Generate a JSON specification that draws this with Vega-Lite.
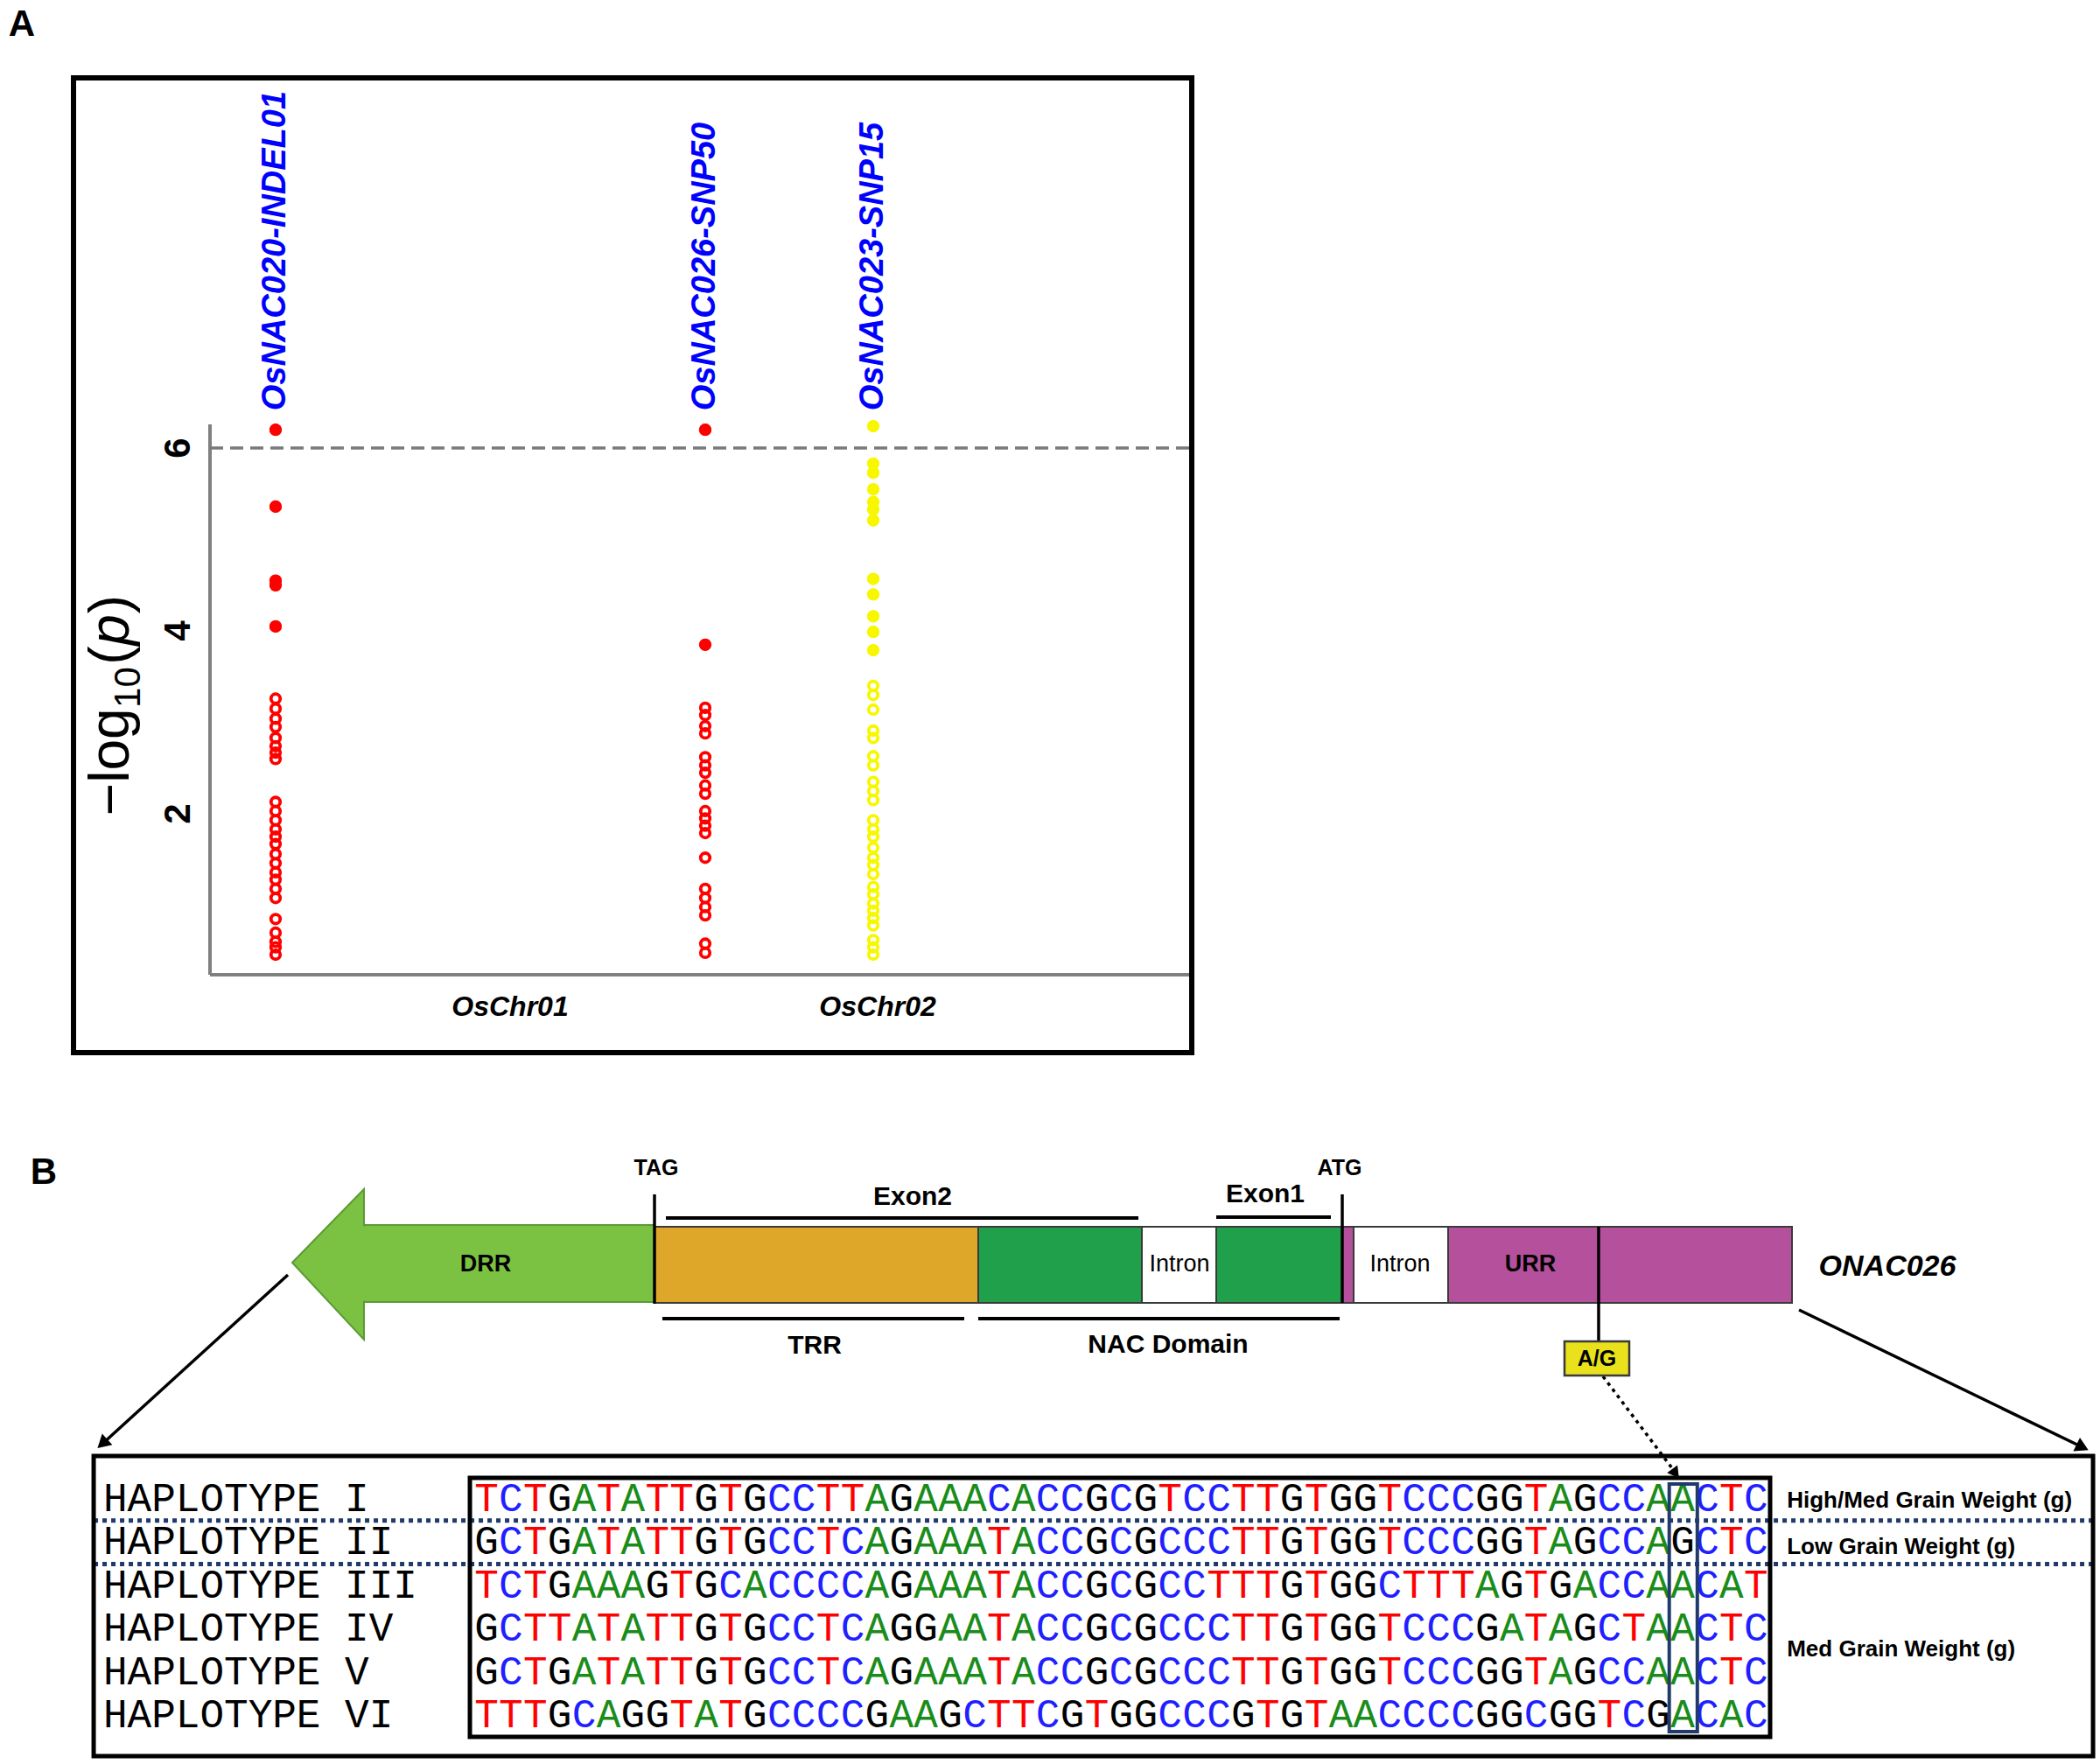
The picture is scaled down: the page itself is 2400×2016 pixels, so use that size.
{
"$schema":"https://vega.github.io/schema/vega-lite/v6.json",
"width":2400,"height":2016,"padding":0,"autosize":{"type":"none"},
"background":"white",
"config":{"view":{"stroke":null},"font":"Liberation Sans"},
"datasets":{
"pts":[
{"chr":"OsChr01","locus":"OsNAC020-INDEL01","pos":6.7,"logp":6.20},{"chr":"OsChr01","locus":"OsNAC020-INDEL01","pos":6.7,"logp":5.36},{"chr":"OsChr01","locus":"OsNAC020-INDEL01","pos":6.7,"logp":4.55},{"chr":"OsChr01","locus":"OsNAC020-INDEL01","pos":6.7,"logp":4.50},{"chr":"OsChr01","locus":"OsNAC020-INDEL01","pos":6.7,"logp":4.05},{"chr":"OsChr01","locus":"OsNAC020-INDEL01","pos":6.7,"logp":3.26},{"chr":"OsChr01","locus":"OsNAC020-INDEL01","pos":6.7,"logp":3.15},{"chr":"OsChr01","locus":"OsNAC020-INDEL01","pos":6.7,"logp":3.04},{"chr":"OsChr01","locus":"OsNAC020-INDEL01","pos":6.7,"logp":2.95},{"chr":"OsChr01","locus":"OsNAC020-INDEL01","pos":6.7,"logp":2.83},{"chr":"OsChr01","locus":"OsNAC020-INDEL01","pos":6.7,"logp":2.74},{"chr":"OsChr01","locus":"OsNAC020-INDEL01","pos":6.7,"logp":2.67},{"chr":"OsChr01","locus":"OsNAC020-INDEL01","pos":6.7,"logp":2.60},{"chr":"OsChr01","locus":"OsNAC020-INDEL01","pos":6.7,"logp":2.13},{"chr":"OsChr01","locus":"OsNAC020-INDEL01","pos":6.7,"logp":2.03},{"chr":"OsChr01","locus":"OsNAC020-INDEL01","pos":6.7,"logp":1.93},{"chr":"OsChr01","locus":"OsNAC020-INDEL01","pos":6.7,"logp":1.83},{"chr":"OsChr01","locus":"OsNAC020-INDEL01","pos":6.7,"logp":1.75},{"chr":"OsChr01","locus":"OsNAC020-INDEL01","pos":6.7,"logp":1.67},{"chr":"OsChr01","locus":"OsNAC020-INDEL01","pos":6.7,"logp":1.56},{"chr":"OsChr01","locus":"OsNAC020-INDEL01","pos":6.7,"logp":1.46},{"chr":"OsChr01","locus":"OsNAC020-INDEL01","pos":6.7,"logp":1.36},{"chr":"OsChr01","locus":"OsNAC020-INDEL01","pos":6.7,"logp":1.28},{"chr":"OsChr01","locus":"OsNAC020-INDEL01","pos":6.7,"logp":1.18},{"chr":"OsChr01","locus":"OsNAC020-INDEL01","pos":6.7,"logp":1.08},{"chr":"OsChr01","locus":"OsNAC020-INDEL01","pos":6.7,"logp":0.85},{"chr":"OsChr01","locus":"OsNAC020-INDEL01","pos":6.7,"logp":0.70},{"chr":"OsChr01","locus":"OsNAC020-INDEL01","pos":6.7,"logp":0.60},{"chr":"OsChr01","locus":"OsNAC020-INDEL01","pos":6.7,"logp":0.54},{"chr":"OsChr01","locus":"OsNAC020-INDEL01","pos":6.7,"logp":0.46},
{"chr":"OsChr01","locus":"OsNAC026-SNP50","pos":50.58,"logp":6.20},{"chr":"OsChr01","locus":"OsNAC026-SNP50","pos":50.58,"logp":3.85},{"chr":"OsChr01","locus":"OsNAC026-SNP50","pos":50.58,"logp":3.16},{"chr":"OsChr01","locus":"OsNAC026-SNP50","pos":50.58,"logp":3.08},{"chr":"OsChr01","locus":"OsNAC026-SNP50","pos":50.58,"logp":2.96},{"chr":"OsChr01","locus":"OsNAC026-SNP50","pos":50.58,"logp":2.88},{"chr":"OsChr01","locus":"OsNAC026-SNP50","pos":50.58,"logp":2.62},{"chr":"OsChr01","locus":"OsNAC026-SNP50","pos":50.58,"logp":2.53},{"chr":"OsChr01","locus":"OsNAC026-SNP50","pos":50.58,"logp":2.45},{"chr":"OsChr01","locus":"OsNAC026-SNP50","pos":50.58,"logp":2.31},{"chr":"OsChr01","locus":"OsNAC026-SNP50","pos":50.58,"logp":2.22},{"chr":"OsChr01","locus":"OsNAC026-SNP50","pos":50.58,"logp":2.03},{"chr":"OsChr01","locus":"OsNAC026-SNP50","pos":50.58,"logp":1.95},{"chr":"OsChr01","locus":"OsNAC026-SNP50","pos":50.58,"logp":1.87},{"chr":"OsChr01","locus":"OsNAC026-SNP50","pos":50.58,"logp":1.79},{"chr":"OsChr01","locus":"OsNAC026-SNP50","pos":50.58,"logp":1.52},{"chr":"OsChr01","locus":"OsNAC026-SNP50","pos":50.58,"logp":1.18},{"chr":"OsChr01","locus":"OsNAC026-SNP50","pos":50.58,"logp":1.08},{"chr":"OsChr01","locus":"OsNAC026-SNP50","pos":50.58,"logp":0.98},{"chr":"OsChr01","locus":"OsNAC026-SNP50","pos":50.58,"logp":0.89},{"chr":"OsChr01","locus":"OsNAC026-SNP50","pos":50.58,"logp":0.58},{"chr":"OsChr01","locus":"OsNAC026-SNP50","pos":50.58,"logp":0.48},
{"chr":"OsChr02","locus":"OsNAC023-SNP15","pos":67.74,"logp":6.24},{"chr":"OsChr02","locus":"OsNAC023-SNP15","pos":67.74,"logp":5.83},{"chr":"OsChr02","locus":"OsNAC023-SNP15","pos":67.74,"logp":5.73},{"chr":"OsChr02","locus":"OsNAC023-SNP15","pos":67.74,"logp":5.55},{"chr":"OsChr02","locus":"OsNAC023-SNP15","pos":67.74,"logp":5.41},{"chr":"OsChr02","locus":"OsNAC023-SNP15","pos":67.74,"logp":5.33},{"chr":"OsChr02","locus":"OsNAC023-SNP15","pos":67.74,"logp":5.21},{"chr":"OsChr02","locus":"OsNAC023-SNP15","pos":67.74,"logp":4.57},{"chr":"OsChr02","locus":"OsNAC023-SNP15","pos":67.74,"logp":4.40},{"chr":"OsChr02","locus":"OsNAC023-SNP15","pos":67.74,"logp":4.16},{"chr":"OsChr02","locus":"OsNAC023-SNP15","pos":67.74,"logp":3.99},{"chr":"OsChr02","locus":"OsNAC023-SNP15","pos":67.74,"logp":3.79},{"chr":"OsChr02","locus":"OsNAC023-SNP15","pos":67.74,"logp":3.40},{"chr":"OsChr02","locus":"OsNAC023-SNP15","pos":67.74,"logp":3.30},{"chr":"OsChr02","locus":"OsNAC023-SNP15","pos":67.74,"logp":3.14},{"chr":"OsChr02","locus":"OsNAC023-SNP15","pos":67.74,"logp":2.91},{"chr":"OsChr02","locus":"OsNAC023-SNP15","pos":67.74,"logp":2.83},{"chr":"OsChr02","locus":"OsNAC023-SNP15","pos":67.74,"logp":2.63},{"chr":"OsChr02","locus":"OsNAC023-SNP15","pos":67.74,"logp":2.53},{"chr":"OsChr02","locus":"OsNAC023-SNP15","pos":67.74,"logp":2.35},{"chr":"OsChr02","locus":"OsNAC023-SNP15","pos":67.74,"logp":2.25},{"chr":"OsChr02","locus":"OsNAC023-SNP15","pos":67.74,"logp":2.15},{"chr":"OsChr02","locus":"OsNAC023-SNP15","pos":67.74,"logp":1.93},{"chr":"OsChr02","locus":"OsNAC023-SNP15","pos":67.74,"logp":1.83},{"chr":"OsChr02","locus":"OsNAC023-SNP15","pos":67.74,"logp":1.75},{"chr":"OsChr02","locus":"OsNAC023-SNP15","pos":67.74,"logp":1.63},{"chr":"OsChr02","locus":"OsNAC023-SNP15","pos":67.74,"logp":1.52},{"chr":"OsChr02","locus":"OsNAC023-SNP15","pos":67.74,"logp":1.44},{"chr":"OsChr02","locus":"OsNAC023-SNP15","pos":67.74,"logp":1.34},{"chr":"OsChr02","locus":"OsNAC023-SNP15","pos":67.74,"logp":1.20},{"chr":"OsChr02","locus":"OsNAC023-SNP15","pos":67.74,"logp":1.12},{"chr":"OsChr02","locus":"OsNAC023-SNP15","pos":67.74,"logp":1.02},{"chr":"OsChr02","locus":"OsNAC023-SNP15","pos":67.74,"logp":0.94},{"chr":"OsChr02","locus":"OsNAC023-SNP15","pos":67.74,"logp":0.86},{"chr":"OsChr02","locus":"OsNAC023-SNP15","pos":67.74,"logp":0.78},{"chr":"OsChr02","locus":"OsNAC023-SNP15","pos":67.74,"logp":0.62},{"chr":"OsChr02","locus":"OsNAC023-SNP15","pos":67.74,"logp":0.54},{"chr":"OsChr02","locus":"OsNAC023-SNP15","pos":67.74,"logp":0.46}
],
"seq":[
{"h":1,"i":0,"b":"T"},{"h":1,"i":1,"b":"C"},{"h":1,"i":2,"b":"T"},{"h":1,"i":3,"b":"G"},{"h":1,"i":4,"b":"A"},{"h":1,"i":5,"b":"T"},{"h":1,"i":6,"b":"A"},{"h":1,"i":7,"b":"T"},{"h":1,"i":8,"b":"T"},{"h":1,"i":9,"b":"G"},
{"h":1,"i":10,"b":"T"},{"h":1,"i":11,"b":"G"},{"h":1,"i":12,"b":"C"},{"h":1,"i":13,"b":"C"},{"h":1,"i":14,"b":"T"},{"h":1,"i":15,"b":"T"},{"h":1,"i":16,"b":"A"},{"h":1,"i":17,"b":"G"},{"h":1,"i":18,"b":"A"},{"h":1,"i":19,"b":"A"},
{"h":1,"i":20,"b":"A"},{"h":1,"i":21,"b":"C"},{"h":1,"i":22,"b":"A"},{"h":1,"i":23,"b":"C"},{"h":1,"i":24,"b":"C"},{"h":1,"i":25,"b":"G"},{"h":1,"i":26,"b":"C"},{"h":1,"i":27,"b":"G"},{"h":1,"i":28,"b":"T"},{"h":1,"i":29,"b":"C"},
{"h":1,"i":30,"b":"C"},{"h":1,"i":31,"b":"T"},{"h":1,"i":32,"b":"T"},{"h":1,"i":33,"b":"G"},{"h":1,"i":34,"b":"T"},{"h":1,"i":35,"b":"G"},{"h":1,"i":36,"b":"G"},{"h":1,"i":37,"b":"T"},{"h":1,"i":38,"b":"C"},{"h":1,"i":39,"b":"C"},
{"h":1,"i":40,"b":"C"},{"h":1,"i":41,"b":"G"},{"h":1,"i":42,"b":"G"},{"h":1,"i":43,"b":"T"},{"h":1,"i":44,"b":"A"},{"h":1,"i":45,"b":"G"},{"h":1,"i":46,"b":"C"},{"h":1,"i":47,"b":"C"},{"h":1,"i":48,"b":"A"},{"h":1,"i":49,"b":"A"},
{"h":1,"i":50,"b":"C"},{"h":1,"i":51,"b":"T"},{"h":1,"i":52,"b":"C"},
{"h":2,"i":0,"b":"G"},{"h":2,"i":1,"b":"C"},{"h":2,"i":2,"b":"T"},{"h":2,"i":3,"b":"G"},{"h":2,"i":4,"b":"A"},{"h":2,"i":5,"b":"T"},{"h":2,"i":6,"b":"A"},{"h":2,"i":7,"b":"T"},{"h":2,"i":8,"b":"T"},{"h":2,"i":9,"b":"G"},
{"h":2,"i":10,"b":"T"},{"h":2,"i":11,"b":"G"},{"h":2,"i":12,"b":"C"},{"h":2,"i":13,"b":"C"},{"h":2,"i":14,"b":"T"},{"h":2,"i":15,"b":"C"},{"h":2,"i":16,"b":"A"},{"h":2,"i":17,"b":"G"},{"h":2,"i":18,"b":"A"},{"h":2,"i":19,"b":"A"},
{"h":2,"i":20,"b":"A"},{"h":2,"i":21,"b":"T"},{"h":2,"i":22,"b":"A"},{"h":2,"i":23,"b":"C"},{"h":2,"i":24,"b":"C"},{"h":2,"i":25,"b":"G"},{"h":2,"i":26,"b":"C"},{"h":2,"i":27,"b":"G"},{"h":2,"i":28,"b":"C"},{"h":2,"i":29,"b":"C"},
{"h":2,"i":30,"b":"C"},{"h":2,"i":31,"b":"T"},{"h":2,"i":32,"b":"T"},{"h":2,"i":33,"b":"G"},{"h":2,"i":34,"b":"T"},{"h":2,"i":35,"b":"G"},{"h":2,"i":36,"b":"G"},{"h":2,"i":37,"b":"T"},{"h":2,"i":38,"b":"C"},{"h":2,"i":39,"b":"C"},
{"h":2,"i":40,"b":"C"},{"h":2,"i":41,"b":"G"},{"h":2,"i":42,"b":"G"},{"h":2,"i":43,"b":"T"},{"h":2,"i":44,"b":"A"},{"h":2,"i":45,"b":"G"},{"h":2,"i":46,"b":"C"},{"h":2,"i":47,"b":"C"},{"h":2,"i":48,"b":"A"},{"h":2,"i":49,"b":"G"},
{"h":2,"i":50,"b":"C"},{"h":2,"i":51,"b":"T"},{"h":2,"i":52,"b":"C"},
{"h":3,"i":0,"b":"T"},{"h":3,"i":1,"b":"C"},{"h":3,"i":2,"b":"T"},{"h":3,"i":3,"b":"G"},{"h":3,"i":4,"b":"A"},{"h":3,"i":5,"b":"A"},{"h":3,"i":6,"b":"A"},{"h":3,"i":7,"b":"G"},{"h":3,"i":8,"b":"T"},{"h":3,"i":9,"b":"G"},
{"h":3,"i":10,"b":"C"},{"h":3,"i":11,"b":"A"},{"h":3,"i":12,"b":"C"},{"h":3,"i":13,"b":"C"},{"h":3,"i":14,"b":"C"},{"h":3,"i":15,"b":"C"},{"h":3,"i":16,"b":"A"},{"h":3,"i":17,"b":"G"},{"h":3,"i":18,"b":"A"},{"h":3,"i":19,"b":"A"},
{"h":3,"i":20,"b":"A"},{"h":3,"i":21,"b":"T"},{"h":3,"i":22,"b":"A"},{"h":3,"i":23,"b":"C"},{"h":3,"i":24,"b":"C"},{"h":3,"i":25,"b":"G"},{"h":3,"i":26,"b":"C"},{"h":3,"i":27,"b":"G"},{"h":3,"i":28,"b":"C"},{"h":3,"i":29,"b":"C"},
{"h":3,"i":30,"b":"T"},{"h":3,"i":31,"b":"T"},{"h":3,"i":32,"b":"T"},{"h":3,"i":33,"b":"G"},{"h":3,"i":34,"b":"T"},{"h":3,"i":35,"b":"G"},{"h":3,"i":36,"b":"G"},{"h":3,"i":37,"b":"C"},{"h":3,"i":38,"b":"T"},{"h":3,"i":39,"b":"T"},
{"h":3,"i":40,"b":"T"},{"h":3,"i":41,"b":"A"},{"h":3,"i":42,"b":"G"},{"h":3,"i":43,"b":"T"},{"h":3,"i":44,"b":"G"},{"h":3,"i":45,"b":"A"},{"h":3,"i":46,"b":"C"},{"h":3,"i":47,"b":"C"},{"h":3,"i":48,"b":"A"},{"h":3,"i":49,"b":"A"},
{"h":3,"i":50,"b":"C"},{"h":3,"i":51,"b":"A"},{"h":3,"i":52,"b":"T"},
{"h":4,"i":0,"b":"G"},{"h":4,"i":1,"b":"C"},{"h":4,"i":2,"b":"T"},{"h":4,"i":3,"b":"T"},{"h":4,"i":4,"b":"A"},{"h":4,"i":5,"b":"T"},{"h":4,"i":6,"b":"A"},{"h":4,"i":7,"b":"T"},{"h":4,"i":8,"b":"T"},{"h":4,"i":9,"b":"G"},
{"h":4,"i":10,"b":"T"},{"h":4,"i":11,"b":"G"},{"h":4,"i":12,"b":"C"},{"h":4,"i":13,"b":"C"},{"h":4,"i":14,"b":"T"},{"h":4,"i":15,"b":"C"},{"h":4,"i":16,"b":"A"},{"h":4,"i":17,"b":"G"},{"h":4,"i":18,"b":"G"},{"h":4,"i":19,"b":"A"},
{"h":4,"i":20,"b":"A"},{"h":4,"i":21,"b":"T"},{"h":4,"i":22,"b":"A"},{"h":4,"i":23,"b":"C"},{"h":4,"i":24,"b":"C"},{"h":4,"i":25,"b":"G"},{"h":4,"i":26,"b":"C"},{"h":4,"i":27,"b":"G"},{"h":4,"i":28,"b":"C"},{"h":4,"i":29,"b":"C"},
{"h":4,"i":30,"b":"C"},{"h":4,"i":31,"b":"T"},{"h":4,"i":32,"b":"T"},{"h":4,"i":33,"b":"G"},{"h":4,"i":34,"b":"T"},{"h":4,"i":35,"b":"G"},{"h":4,"i":36,"b":"G"},{"h":4,"i":37,"b":"T"},{"h":4,"i":38,"b":"C"},{"h":4,"i":39,"b":"C"},
{"h":4,"i":40,"b":"C"},{"h":4,"i":41,"b":"G"},{"h":4,"i":42,"b":"A"},{"h":4,"i":43,"b":"T"},{"h":4,"i":44,"b":"A"},{"h":4,"i":45,"b":"G"},{"h":4,"i":46,"b":"C"},{"h":4,"i":47,"b":"T"},{"h":4,"i":48,"b":"A"},{"h":4,"i":49,"b":"A"},
{"h":4,"i":50,"b":"C"},{"h":4,"i":51,"b":"T"},{"h":4,"i":52,"b":"C"},
{"h":5,"i":0,"b":"G"},{"h":5,"i":1,"b":"C"},{"h":5,"i":2,"b":"T"},{"h":5,"i":3,"b":"G"},{"h":5,"i":4,"b":"A"},{"h":5,"i":5,"b":"T"},{"h":5,"i":6,"b":"A"},{"h":5,"i":7,"b":"T"},{"h":5,"i":8,"b":"T"},{"h":5,"i":9,"b":"G"},
{"h":5,"i":10,"b":"T"},{"h":5,"i":11,"b":"G"},{"h":5,"i":12,"b":"C"},{"h":5,"i":13,"b":"C"},{"h":5,"i":14,"b":"T"},{"h":5,"i":15,"b":"C"},{"h":5,"i":16,"b":"A"},{"h":5,"i":17,"b":"G"},{"h":5,"i":18,"b":"A"},{"h":5,"i":19,"b":"A"},
{"h":5,"i":20,"b":"A"},{"h":5,"i":21,"b":"T"},{"h":5,"i":22,"b":"A"},{"h":5,"i":23,"b":"C"},{"h":5,"i":24,"b":"C"},{"h":5,"i":25,"b":"G"},{"h":5,"i":26,"b":"C"},{"h":5,"i":27,"b":"G"},{"h":5,"i":28,"b":"C"},{"h":5,"i":29,"b":"C"},
{"h":5,"i":30,"b":"C"},{"h":5,"i":31,"b":"T"},{"h":5,"i":32,"b":"T"},{"h":5,"i":33,"b":"G"},{"h":5,"i":34,"b":"T"},{"h":5,"i":35,"b":"G"},{"h":5,"i":36,"b":"G"},{"h":5,"i":37,"b":"T"},{"h":5,"i":38,"b":"C"},{"h":5,"i":39,"b":"C"},
{"h":5,"i":40,"b":"C"},{"h":5,"i":41,"b":"G"},{"h":5,"i":42,"b":"G"},{"h":5,"i":43,"b":"T"},{"h":5,"i":44,"b":"A"},{"h":5,"i":45,"b":"G"},{"h":5,"i":46,"b":"C"},{"h":5,"i":47,"b":"C"},{"h":5,"i":48,"b":"A"},{"h":5,"i":49,"b":"A"},
{"h":5,"i":50,"b":"C"},{"h":5,"i":51,"b":"T"},{"h":5,"i":52,"b":"C"},
{"h":6,"i":0,"b":"T"},{"h":6,"i":1,"b":"T"},{"h":6,"i":2,"b":"T"},{"h":6,"i":3,"b":"G"},{"h":6,"i":4,"b":"C"},{"h":6,"i":5,"b":"A"},{"h":6,"i":6,"b":"G"},{"h":6,"i":7,"b":"G"},{"h":6,"i":8,"b":"T"},{"h":6,"i":9,"b":"A"},
{"h":6,"i":10,"b":"T"},{"h":6,"i":11,"b":"G"},{"h":6,"i":12,"b":"C"},{"h":6,"i":13,"b":"C"},{"h":6,"i":14,"b":"C"},{"h":6,"i":15,"b":"C"},{"h":6,"i":16,"b":"G"},{"h":6,"i":17,"b":"A"},{"h":6,"i":18,"b":"A"},{"h":6,"i":19,"b":"G"},
{"h":6,"i":20,"b":"C"},{"h":6,"i":21,"b":"T"},{"h":6,"i":22,"b":"T"},{"h":6,"i":23,"b":"C"},{"h":6,"i":24,"b":"G"},{"h":6,"i":25,"b":"T"},{"h":6,"i":26,"b":"G"},{"h":6,"i":27,"b":"G"},{"h":6,"i":28,"b":"C"},{"h":6,"i":29,"b":"C"},
{"h":6,"i":30,"b":"C"},{"h":6,"i":31,"b":"G"},{"h":6,"i":32,"b":"T"},{"h":6,"i":33,"b":"G"},{"h":6,"i":34,"b":"T"},{"h":6,"i":35,"b":"A"},{"h":6,"i":36,"b":"A"},{"h":6,"i":37,"b":"C"},{"h":6,"i":38,"b":"C"},{"h":6,"i":39,"b":"C"},
{"h":6,"i":40,"b":"C"},{"h":6,"i":41,"b":"G"},{"h":6,"i":42,"b":"G"},{"h":6,"i":43,"b":"C"},{"h":6,"i":44,"b":"G"},{"h":6,"i":45,"b":"G"},{"h":6,"i":46,"b":"T"},{"h":6,"i":47,"b":"C"},{"h":6,"i":48,"b":"G"},{"h":6,"i":49,"b":"A"},
{"h":6,"i":50,"b":"C"},{"h":6,"i":51,"b":"A"},{"h":6,"i":52,"b":"C"}
]
},
"layer":[
{"layer":[
 {"data":{"values":[{}]},"mark":{"type":"rect","filled":false,"stroke":"#000000","strokeWidth":6},
  "encoding":{"x":{"datum":-13.94,"type":"quantitative","scale":{"domain":[-21.448,193.03],"nice":false,"zero":false},"axis":null},"x2":{"datum":100.27},
   "y":{"datum":10.049,"type":"quantitative","scale":{"domain":[-8.3914,10.9005],"nice":false,"zero":false},"axis":null},"y2":{"datum":-0.6115}}},
 {"data":{"values":[{}]},"mark":{"type":"rule","color":"#808080","strokeWidth":4},
  "encoding":{"x":{"datum":0,"type":"quantitative","scale":{"domain":[-21.448,193.03],"nice":false,"zero":false},"axis":null},
   "y":{"datum":0.239,"type":"quantitative","scale":{"domain":[-8.3914,10.9005],"nice":false,"zero":false},"axis":null},"y2":{"datum":6.26}}},
 {"data":{"values":[{}]},"mark":{"type":"rule","color":"#808080","strokeWidth":4},
  "encoding":{"x":{"datum":0,"type":"quantitative","scale":{"domain":[-21.448,193.03],"nice":false,"zero":false},"axis":null},"x2":{"datum":100},
   "y":{"datum":0.239,"type":"quantitative","scale":{"domain":[-8.3914,10.9005],"nice":false,"zero":false},"axis":null}}},
 {"data":{"values":[{}]},"mark":{"type":"rule","color":"#7a7a7a","strokeWidth":3.5,"strokeDash":[15,8]},
  "encoding":{"x":{"datum":0,"type":"quantitative","scale":{"domain":[-21.448,193.03],"nice":false,"zero":false},"axis":null},"x2":{"datum":100},
   "y":{"datum":6,"type":"quantitative","scale":{"domain":[-8.3914,10.9005],"nice":false,"zero":false},"axis":null}}},
 {"data":{"name":"pts"},"mark":{"type":"point","shape":"circle","filled":false,"strokeWidth":3.8,"size":110,"opacity":1},
  "encoding":{"x":{"field":"pos","type":"quantitative","scale":{"domain":[-21.448,193.03],"nice":false,"zero":false},"axis":null},
   "y":{"field":"logp","type":"quantitative","scale":{"domain":[-8.3914,10.9005],"nice":false,"zero":false},"axis":null},
   "color":{"field":"chr","type":"nominal","scale":{"domain":["OsChr01","OsChr02"],"range":["#ff0000","#f7f700"]},"legend":null}}},
 {"data":{"name":"pts"},"transform":[{"filter":"datum.logp > 3.5"}],"mark":{"type":"circle","size":190,"opacity":1},
  "encoding":{"x":{"field":"pos","type":"quantitative","scale":{"domain":[-21.448,193.03],"nice":false,"zero":false},"axis":null},
   "y":{"field":"logp","type":"quantitative","scale":{"domain":[-8.3914,10.9005],"nice":false,"zero":false},"axis":null},
   "color":{"field":"chr","type":"nominal","scale":{"domain":["OsChr01","OsChr02"],"range":["#ff0000","#f7f700"]},"legend":null}}},
 {"data":{"values":[{"locus":"OsNAC020-INDEL01","pos":6.7},{"locus":"OsNAC026-SNP50","pos":50.58},{"locus":"OsNAC023-SNP15","pos":67.74}]},
  "mark":{"type":"text","angle":270,"align":"left","baseline":"middle","fontSize":38,"fontWeight":"bold","fontStyle":"italic","color":"#0000ff"},
  "encoding":{"x":{"field":"pos","type":"quantitative","scale":{"domain":[-21.448,193.03],"nice":false,"zero":false},"axis":null},
   "y":{"datum":6.41,"type":"quantitative","scale":{"domain":[-8.3914,10.9005],"nice":false,"zero":false},"axis":null},
   "text":{"field":"locus"}}},
 {"data":{"values":[{"t":2},{"t":4},{"t":6}]},
  "mark":{"type":"text","angle":270,"align":"center","baseline":"middle","fontSize":42,"fontWeight":"bold","color":"#000000"},
  "encoding":{"x":{"datum":-3.217,"type":"quantitative","scale":{"domain":[-21.448,193.03],"nice":false,"zero":false},"axis":null},
   "y":{"field":"t","type":"quantitative","scale":{"domain":[-8.3914,10.9005],"nice":false,"zero":false},"axis":null},
   "text":{"field":"t"}}},
 {"data":{"values":[{"t":"−log"}]},
  "mark":{"type":"text","angle":270,"align":"left","baseline":"alphabetic","fontSize":64,"color":"#000000"},
  "encoding":{"x":{"datum":-8.311,"type":"quantitative","scale":{"domain":[-21.448,193.03],"nice":false,"zero":false},"axis":null},
   "y":{"datum":1.98,"type":"quantitative","scale":{"domain":[-8.3914,10.9005],"nice":false,"zero":false},"axis":null},
   "text":{"field":"t"}}},
 {"data":{"values":[{"t":"10"}]},
  "mark":{"type":"text","angle":270,"align":"left","baseline":"alphabetic","fontSize":42,"color":"#000000"},
  "encoding":{"x":{"datum":-7.15,"type":"quantitative","scale":{"domain":[-21.448,193.03],"nice":false,"zero":false},"axis":null},
   "y":{"datum":3.16,"type":"quantitative","scale":{"domain":[-8.3914,10.9005],"nice":false,"zero":false},"axis":null},
   "text":{"field":"t"}}},
 {"data":{"values":[{"t":"("}]},
  "mark":{"type":"text","angle":270,"align":"left","baseline":"alphabetic","fontSize":64,"color":"#000000"},
  "encoding":{"x":{"datum":-8.311,"type":"quantitative","scale":{"domain":[-21.448,193.03],"nice":false,"zero":false},"axis":null},
   "y":{"datum":3.63,"type":"quantitative","scale":{"domain":[-8.3914,10.9005],"nice":false,"zero":false},"axis":null},
   "text":{"field":"t"}}},
 {"data":{"values":[{"t":"p"}]},
  "mark":{"type":"text","angle":270,"align":"left","baseline":"alphabetic","fontSize":64,"fontStyle":"italic","color":"#000000"},
  "encoding":{"x":{"datum":-8.311,"type":"quantitative","scale":{"domain":[-21.448,193.03],"nice":false,"zero":false},"axis":null},
   "y":{"datum":3.84,"type":"quantitative","scale":{"domain":[-8.3914,10.9005],"nice":false,"zero":false},"axis":null},
   "text":{"field":"t"}}},
 {"data":{"values":[{"t":")"}]},
  "mark":{"type":"text","angle":270,"align":"left","baseline":"alphabetic","fontSize":64,"color":"#000000"},
  "encoding":{"x":{"datum":-8.311,"type":"quantitative","scale":{"domain":[-21.448,193.03],"nice":false,"zero":false},"axis":null},
   "y":{"datum":4.19,"type":"quantitative","scale":{"domain":[-8.3914,10.9005],"nice":false,"zero":false},"axis":null},
   "text":{"field":"t"}}},
 {"data":{"values":[{"chr":"OsChr01","mid":30.65},{"chr":"OsChr02","mid":68.19}]},
  "mark":{"type":"text","align":"center","baseline":"middle","fontSize":32,"fontWeight":"bold","fontStyle":"italic","color":"#000000"},
  "encoding":{"x":{"field":"mid","type":"quantitative","scale":{"domain":[-21.448,193.03],"nice":false,"zero":false},"axis":null},
   "y":{"datum":-0.114,"type":"quantitative","scale":{"domain":[-8.3914,10.9005],"nice":false,"zero":false},"axis":null},
   "text":{"field":"chr"}}}
]},
{"layer":[
 {"data":{"values":[{"gx":334,"gyt":1443,"gyb":1443},{"gx":416,"gyt":1359,"gyb":1531}]},
  "mark":{"type":"area","orient":"vertical","interpolate":"linear","color":"#7cc242","stroke":"#5a9a34","strokeWidth":2,"opacity":1},
  "encoding":{"x":{"field":"gx","type":"quantitative","scale":{"domain":[0,2400],"nice":false,"zero":false},"axis":null},
   "y":{"field":"gyt","type":"quantitative","scale":{"domain":[0,2016],"nice":false,"zero":false,"reverse":true},"axis":null},
   "y2":{"field":"gyb"}}},
 {"data":{"values":[{}]},
  "mark":{"type":"rect","color":"#7cc242","stroke":"#5a9a34","strokeWidth":2,"opacity":1},
  "encoding":{"x":{"datum":416,"type":"quantitative","scale":{"domain":[0,2400],"nice":false,"zero":false},"axis":null},"x2":{"datum":748},
   "y":{"datum":1400,"type":"quantitative","scale":{"domain":[0,2016],"nice":false,"zero":false,"reverse":true},"axis":null},"y2":{"datum":1488}}},
 {"data":{"values":[{}]},
  "mark":{"type":"rect","color":"#7cc242","opacity":1},
  "encoding":{"x":{"datum":413,"type":"quantitative","scale":{"domain":[0,2400],"nice":false,"zero":false},"axis":null},"x2":{"datum":420},
   "y":{"datum":1401.5,"type":"quantitative","scale":{"domain":[0,2016],"nice":false,"zero":false,"reverse":true},"axis":null},"y2":{"datum":1486.5}}},
 {"data":{"values":[{"part":"TRR","x0":748,"x1":1118},{"part":"NAC","x0":1118,"x1":1305},{"part":"Intron1","x0":1305,"x1":1390},{"part":"Exon1","x0":1390,"x1":1534},{"part":"UTR","x0":1534,"x1":1547},{"part":"Intron2","x0":1547,"x1":1655},{"part":"URR","x0":1655,"x1":2048}]},
  "mark":{"type":"rect","stroke":"#3a3a3a","strokeWidth":2,"opacity":1},
  "encoding":{"x":{"field":"x0","type":"quantitative","scale":{"domain":[0,2400],"nice":false,"zero":false},"axis":null},"x2":{"field":"x1"},
   "y":{"datum":1402,"type":"quantitative","scale":{"domain":[0,2016],"nice":false,"zero":false,"reverse":true},"axis":null},"y2":{"datum":1489},
   "color":{"field":"part","type":"nominal","scale":{"domain":["TRR","NAC","Intron1","Exon1","UTR","Intron2","URR"],"range":["#dfa72a","#21a04b","#ffffff","#21a04b","#b5509c","#ffffff","#b5509c"]},"legend":null}}},
 {"data":{"values":[{"name":"TAG","x":748,"y0":1365,"y1":1490},{"name":"ATG","x":1534,"y0":1365,"y1":1489},{"name":"SNP","x":1827,"y0":1402,"y1":1533}]},
  "mark":{"type":"rule","color":"#000000","strokeWidth":3.5},
  "encoding":{"x":{"field":"x","type":"quantitative","scale":{"domain":[0,2400],"nice":false,"zero":false},"axis":null},
   "y":{"field":"y0","type":"quantitative","scale":{"domain":[0,2016],"nice":false,"zero":false,"reverse":true},"axis":null},"y2":{"field":"y1"}}},
 {"data":{"values":[{"name":"Exon2","x0":761,"x1":1301,"y":1392},{"name":"Exon1","x0":1390,"x1":1521,"y":1391},{"name":"TRR","x0":757,"x1":1102,"y":1507},{"name":"NAC Domain","x0":1118,"x1":1531,"y":1507}]},
  "mark":{"type":"rule","color":"#000000","strokeWidth":4},
  "encoding":{"x":{"field":"x0","type":"quantitative","scale":{"domain":[0,2400],"nice":false,"zero":false},"axis":null},"x2":{"field":"x1"},
   "y":{"field":"y","type":"quantitative","scale":{"domain":[0,2016],"nice":false,"zero":false,"reverse":true},"axis":null}}},
 {"data":{"values":[{"x0":329,"y0":1457,"x1":116,"y1":1651},{"x0":2056,"y0":1497,"x1":2380,"y1":1654}]},
  "mark":{"type":"rule","color":"#000000","strokeWidth":3.5},
  "encoding":{"x":{"field":"x0","type":"quantitative","scale":{"domain":[0,2400],"nice":false,"zero":false},"axis":null},"x2":{"field":"x1"},
   "y":{"field":"y0","type":"quantitative","scale":{"domain":[0,2016],"nice":false,"zero":false,"reverse":true},"axis":null},"y2":{"field":"y1"}}},
 {"data":{"values":[{"x0":1832,"y0":1573,"x1":1914,"y1":1682}]},
  "mark":{"type":"rule","color":"#000000","strokeWidth":3.5,"strokeDash":[4,5]},
  "encoding":{"x":{"field":"x0","type":"quantitative","scale":{"domain":[0,2400],"nice":false,"zero":false},"axis":null},"x2":{"field":"x1"},
   "y":{"field":"y0","type":"quantitative","scale":{"domain":[0,2016],"nice":false,"zero":false,"reverse":true},"axis":null},"y2":{"field":"y1"}}},
 {"data":{"values":[{"x":117,"y":1650}]},
  "mark":{"type":"point","shape":"triangle-up","filled":true,"size":300,"angle":227.7,"color":"#000000","opacity":1},
  "encoding":{"x":{"field":"x","type":"quantitative","scale":{"domain":[0,2400],"nice":false,"zero":false},"axis":null},
   "y":{"field":"y","type":"quantitative","scale":{"domain":[0,2016],"nice":false,"zero":false,"reverse":true},"axis":null}}},
 {"data":{"values":[{"x":2380,"y":1654}]},
  "mark":{"type":"point","shape":"triangle-up","filled":true,"size":300,"angle":115.9,"color":"#000000","opacity":1},
  "encoding":{"x":{"field":"x","type":"quantitative","scale":{"domain":[0,2400],"nice":false,"zero":false},"axis":null},
   "y":{"field":"y","type":"quantitative","scale":{"domain":[0,2016],"nice":false,"zero":false,"reverse":true},"axis":null}}},
 {"data":{"values":[{"x":1915,"y":1684}]},
  "mark":{"type":"point","shape":"triangle-up","filled":true,"size":220,"angle":143,"color":"#000000","opacity":1},
  "encoding":{"x":{"field":"x","type":"quantitative","scale":{"domain":[0,2400],"nice":false,"zero":false},"axis":null},
   "y":{"field":"y","type":"quantitative","scale":{"domain":[0,2016],"nice":false,"zero":false,"reverse":true},"axis":null}}},
 {"data":{"values":[{}]},
  "mark":{"type":"rect","color":"#e8e11c","stroke":"#3a3a3a","strokeWidth":2.5,"opacity":1},
  "encoding":{"x":{"datum":1788,"type":"quantitative","scale":{"domain":[0,2400],"nice":false,"zero":false},"axis":null},"x2":{"datum":1862},
   "y":{"datum":1533,"type":"quantitative","scale":{"domain":[0,2016],"nice":false,"zero":false,"reverse":true},"axis":null},"y2":{"datum":1572}}},
 {"data":{"values":[{"t":"TAG","x":750,"y":1335},{"t":"ATG","x":1531,"y":1335},{"t":"A/G","x":1825,"y":1553}]},
  "mark":{"type":"text","align":"center","baseline":"middle","fontSize":25,"fontWeight":"bold","color":"#000000"},
  "encoding":{"x":{"field":"x","type":"quantitative","scale":{"domain":[0,2400],"nice":false,"zero":false},"axis":null},
   "y":{"field":"y","type":"quantitative","scale":{"domain":[0,2016],"nice":false,"zero":false,"reverse":true},"axis":null},"text":{"field":"t"}}},
 {"data":{"values":[{"t":"Exon2","x":1043,"y":1368},{"t":"Exon1","x":1446,"y":1365},{"t":"TRR","x":931,"y":1538},{"t":"NAC Domain","x":1335,"y":1537}]},
  "mark":{"type":"text","align":"center","baseline":"middle","fontSize":30,"fontWeight":"bold","color":"#000000"},
  "encoding":{"x":{"field":"x","type":"quantitative","scale":{"domain":[0,2400],"nice":false,"zero":false},"axis":null},
   "y":{"field":"y","type":"quantitative","scale":{"domain":[0,2016],"nice":false,"zero":false,"reverse":true},"axis":null},"text":{"field":"t"}}},
 {"data":{"values":[{"t":"DRR","x":555,"y":1445},{"t":"URR","x":1749,"y":1445}]},
  "mark":{"type":"text","align":"center","baseline":"middle","fontSize":27,"fontWeight":"bold","color":"#000000"},
  "encoding":{"x":{"field":"x","type":"quantitative","scale":{"domain":[0,2400],"nice":false,"zero":false},"axis":null},
   "y":{"field":"y","type":"quantitative","scale":{"domain":[0,2016],"nice":false,"zero":false,"reverse":true},"axis":null},"text":{"field":"t"}}},
 {"data":{"values":[{"t":"Intron","x":1348,"y":1445},{"t":"Intron","x":1600,"y":1445}]},
  "mark":{"type":"text","align":"center","baseline":"middle","fontSize":27,"color":"#000000"},
  "encoding":{"x":{"field":"x","type":"quantitative","scale":{"domain":[0,2400],"nice":false,"zero":false},"axis":null},
   "y":{"field":"y","type":"quantitative","scale":{"domain":[0,2016],"nice":false,"zero":false,"reverse":true},"axis":null},"text":{"field":"t"}}},
 {"data":{"values":[{"t":"ONAC026","x":2157,"y":1448}]},
  "mark":{"type":"text","align":"center","baseline":"middle","fontSize":34,"fontWeight":"bold","fontStyle":"italic","color":"#000000"},
  "encoding":{"x":{"field":"x","type":"quantitative","scale":{"domain":[0,2400],"nice":false,"zero":false},"axis":null},
   "y":{"field":"y","type":"quantitative","scale":{"domain":[0,2016],"nice":false,"zero":false,"reverse":true},"axis":null},"text":{"field":"t"}}},
 {"data":{"values":[{"t":"A","x":25,"y":28},{"t":"B","x":50,"y":1340}]},
  "mark":{"type":"text","align":"center","baseline":"middle","fontSize":42,"fontWeight":"bold","color":"#000000"},
  "encoding":{"x":{"field":"x","type":"quantitative","scale":{"domain":[0,2400],"nice":false,"zero":false},"axis":null},
   "y":{"field":"y","type":"quantitative","scale":{"domain":[0,2016],"nice":false,"zero":false,"reverse":true},"axis":null},"text":{"field":"t"}}}
]},
{"layer":[
 {"data":{"values":[{"r":1.5},{"r":2.51}]},
  "mark":{"type":"rule","color":"#1f3a6b","strokeWidth":5,"strokeDash":[5,5]},
  "encoding":{"x":{"datum":-16.09,"type":"quantitative","scale":{"domain":[-19.927,66.095],"nice":false,"zero":false},"axis":null},"x2":{"datum":65.81},
   "y":{"field":"r","type":"quantitative","scale":{"domain":[-33.676,7.1336],"nice":false,"zero":false,"reverse":true},"axis":null}}},
 {"data":{"values":[{}]},"mark":{"type":"rect","filled":false,"stroke":"#000000","strokeWidth":5},
  "encoding":{"x":{"datum":-16.09,"type":"quantitative","scale":{"domain":[-19.927,66.095],"nice":false,"zero":false},"axis":null},"x2":{"datum":65.81},
   "y":{"datum":0.008,"type":"quantitative","scale":{"domain":[-33.676,7.1336],"nice":false,"zero":false,"reverse":true},"axis":null},"y2":{"datum":6.951}}},
 {"data":{"values":[{}]},"mark":{"type":"rect","filled":false,"stroke":"#000000","strokeWidth":5},
  "encoding":{"x":{"datum":-0.679,"type":"quantitative","scale":{"domain":[-19.927,66.095],"nice":false,"zero":false},"axis":null},"x2":{"datum":52.582},
   "y":{"datum":0.514,"type":"quantitative","scale":{"domain":[-33.676,7.1336],"nice":false,"zero":false,"reverse":true},"axis":null},"y2":{"datum":6.506}}},
 {"data":{"name":"seq"},
  "mark":{"type":"text","align":"center","baseline":"middle","fontSize":46,"font":"Liberation Mono"},
  "encoding":{"x":{"field":"i","type":"quantitative","scale":{"domain":[-19.927,66.095],"nice":false,"zero":false},"axis":null},
   "y":{"field":"h","type":"quantitative","scale":{"domain":[-33.676,7.1336],"nice":false,"zero":false,"reverse":true},"axis":null},
   "text":{"field":"b"},
   "color":{"field":"b","type":"nominal","scale":{"domain":["A","C","G","T"],"range":["#1a8c1a","#1f1fff","#000000","#ff0000"]},"legend":null}}},
 {"data":{"values":[{}]},"mark":{"type":"rect","filled":false,"stroke":"#1f3a6b","strokeWidth":4},
  "encoding":{"x":{"datum":48.45,"type":"quantitative","scale":{"domain":[-19.927,66.095],"nice":false,"zero":false},"axis":null},"x2":{"datum":49.6},
   "y":{"datum":0.656,"type":"quantitative","scale":{"domain":[-33.676,7.1336],"nice":false,"zero":false,"reverse":true},"axis":null},"y2":{"datum":6.385}}},
 {"data":{"values":[{"h":1,"n":"HAPLOTYPE I"},{"h":2,"n":"HAPLOTYPE II"},{"h":3,"n":"HAPLOTYPE III"},{"h":4,"n":"HAPLOTYPE IV"},{"h":5,"n":"HAPLOTYPE V"},{"h":6,"n":"HAPLOTYPE VI"}]},
  "mark":{"type":"text","align":"left","baseline":"middle","fontSize":46,"font":"Liberation Mono","color":"#000000"},
  "encoding":{"x":{"datum":-15.697,"type":"quantitative","scale":{"domain":[-19.927,66.095],"nice":false,"zero":false},"axis":null},
   "y":{"field":"h","type":"quantitative","scale":{"domain":[-33.676,7.1336],"nice":false,"zero":false,"reverse":true},"axis":null},
   "text":{"field":"n"}}},
 {"data":{"values":[{"t":"High/Med Grain Weight (g)","r":1.037},{"t":"Low Grain Weight (g)","r":2.11},{"t":"Med Grain Weight (g)","r":4.478}]},
  "mark":{"type":"text","align":"left","baseline":"middle","fontSize":26,"fontWeight":"bold","color":"#000000"},
  "encoding":{"x":{"datum":53.27,"type":"quantitative","scale":{"domain":[-19.927,66.095],"nice":false,"zero":false},"axis":null},
   "y":{"field":"r","type":"quantitative","scale":{"domain":[-33.676,7.1336],"nice":false,"zero":false,"reverse":true},"axis":null},
   "text":{"field":"t"}}}
]}
],
"resolve":{"scale":{"x":"independent","y":"independent","color":"independent"}}
}
